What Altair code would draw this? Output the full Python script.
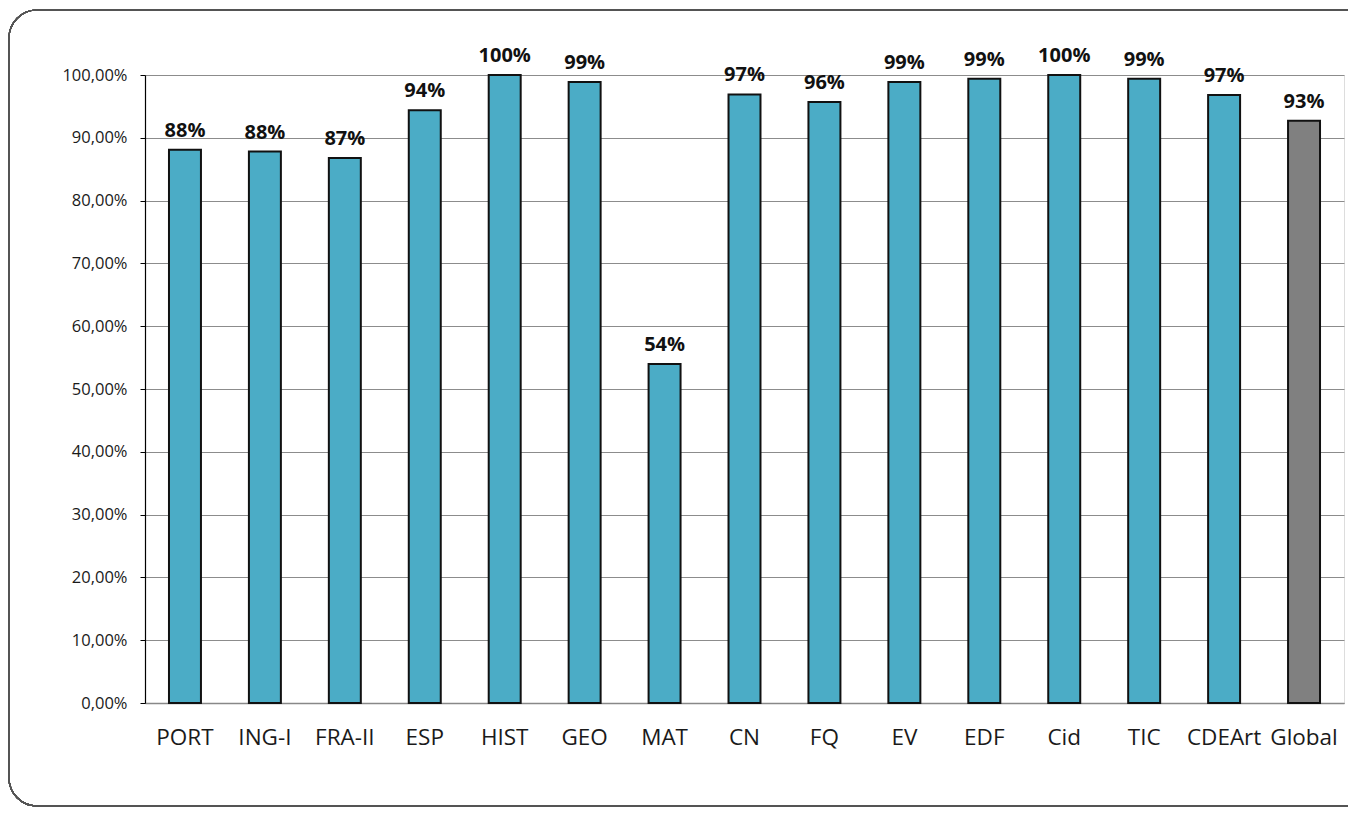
import altair as alt
import pandas as pd

categories = ["PORT", "ING-I", "FRA-II", "ESP", "HIST", "GEO", "MAT", "CN", "FQ", "EV", "EDF", "Cid", "TIC", "CDEArt", "Global"]
values = [88.1, 87.8, 86.8, 94.4, 100.0, 98.9, 54.0, 96.9, 95.7, 98.9, 99.4, 100.0, 99.4, 96.8, 92.7]
labels = ["88%", "88%", "87%", "94%", "100%", "99%", "54%", "97%", "96%", "99%", "99%", "100%", "99%", "97%", "93%"]
groups = ["s"] * 14 + ["g"]

df = pd.DataFrame({"cat": categories, "val": values, "lab": labels, "grp": groups})

W, H = 1199, 628
FONT = "Open Sans"

x = alt.X("cat:N", sort=categories, title=None,
          scale=alt.Scale(paddingInner=0.6, paddingOuter=0.3),
          axis=alt.Axis(labelAngle=0, labelFontSize=22.5, labelFont=FONT, labelColor="#1a1a1a",
                        ticks=False, labelPadding=23, domainColor="#888888", domainWidth=1.5, grid=False))
y = alt.Y("val:Q", title=None,
          scale=alt.Scale(domain=[0, 100], nice=False),
          axis=alt.Axis(values=list(range(0, 101, 10)),
                        labelExpr="replace(format(datum.value, '.2f'), '.', ',') + '%'",
                        labelFontSize=16.5, labelFont=FONT, labelColor="#1a1a1a", labelPadding=13,
                        tickSize=5, tickColor="#000000", domainColor="#000000", domainWidth=1.2,
                        gridColor="#8c8c8c", gridWidth=1))

bars = alt.Chart(df).mark_bar(stroke="#111111", strokeWidth=2).encode(
    x=x, y=y,
    color=alt.Color("grp:N", scale=alt.Scale(domain=["s", "g"], range=["#4BACC6", "#808080"]), legend=None),
)

text = alt.Chart(df).mark_text(baseline="bottom", dy=-9, fontSize=20, fontWeight="bold", font=FONT, color="#111111").encode(
    x=alt.X("cat:N", sort=categories), y="val:Q", text="lab:N"
)

frame = alt.Chart(df).mark_rect(fill=None, stroke="#555555", strokeWidth=1.2, cornerRadius=28, clip=False).encode(
    x=alt.value(-136), x2=alt.value(1260), y=alt.value(-65), y2=alt.value(731)
)

chart = alt.layer(frame, bars, text).properties(
    width=W, height=H,
    autosize=alt.AutoSizeParams(type="none"),
    padding={"left": 137, "top": 67, "right": 4, "bottom": 104},
).configure_view(stroke=None).configure(background="white")

chart.save("out.html", embed_options={"renderer": "svg", "actions": False})
